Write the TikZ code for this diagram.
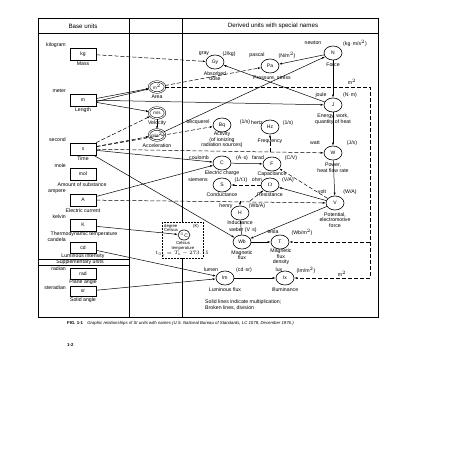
\documentclass[tikz,border=0pt]{standalone}
\usepackage{fontspec}
\setmainfont{Liberation Sans}
\usetikzlibrary{arrows.meta,shapes.geometric}
\begin{document}
\begin{tikzpicture}[x=1pt,y=-1pt,
  txt/.style={font=\fontsize{5.2}{5.6}\selectfont, inner sep=0pt, align=center},
  stxt/.style={font=\fontsize{4.2}{4.6}\selectfont, inner sep=0pt, align=center},
  hdr/.style={font=\fontsize{6.2}{6.6}\selectfont, inner sep=0pt},
  ubox/.style={draw, line width=0.7pt, minimum width=26pt, minimum height=12pt, inner sep=0pt, font=\fontsize{5}{5}\selectfont},
  unit/.style={draw, ellipse, line width=0.6pt, minimum width=18pt, minimum height=14pt, inner sep=0pt, font=\fontsize{5}{5}\selectfont},
  dunit/.style={draw, ellipse, double, double distance=1pt, line width=0.5pt, minimum width=16pt, minimum height=11pt, inner sep=0pt, font=\fontsize{4.5}{5}\selectfont},
  mul/.style={-{Latex[length=3pt,width=2pt]}, line width=0.5pt},
  dv/.style={mul, dash pattern=on 4pt off 2pt},
  frm/.style={line width=0.8pt}
]
\useasboundingbox[fill=white] (0,0) rectangle (452,452);
% frame
\draw[frm] (38,18) rectangle (378,317);
\draw[frm] (38,33) -- (378,33);
\draw[frm] (129,18) -- (129,317);
\draw[frm] (182,18) -- (182,222);
\draw[frm] (182,258) -- (182,317);
\draw[frm] (38,259.5) -- (129,259.5);
\draw[frm] (38,265) -- (129,265);
\node[hdr] (hb) at (83,26) {Base units};
\node[hdr] (hd) at (273,26) {Derived units with special names};
\node[txt] (hs) at (80,262.3) {Supplementary units};
% base units
\node[ubox] (kg) at (83,54) {kg};
\node[ubox] (m) at (83,100) {m};
\node[ubox] (s) at (83,149) {s};
\node[ubox] (mol) at (83,174) {mol};
\node[ubox] (A) at (83,200) {A};
\node[ubox] (K) at (83,225) {K};
\node[ubox,minimum height=11pt] (cd) at (83,247.5) {cd};
\node[ubox,minimum height=11pt] (rad) at (83,273.5) {rad};
\node[ubox,minimum height=10.5pt] (sr) at (83,291.5) {sr};
\node[txt,anchor=east] (lkg) at (66,45) {kilogram};
\node[txt] (dkg) at (83,64) {Mass};
\node[txt,anchor=east] (lm) at (66,91) {meter};
\node[txt] (dm) at (83,110) {Length};
\node[txt,anchor=east] (ls) at (66,140) {second};
\node[txt] (ds) at (83,159) {Time};
\node[txt,anchor=east] (lmol) at (66,166) {mole};
\node[txt] (dmol) at (82,185) {Amount of substance};
\node[txt,anchor=east] (lA) at (66,192) {ampere};
\node[txt] (dA) at (83,211) {Electric current};
\node[txt,anchor=east] (lK) at (66,217) {kelvin};
\node[txt] (dK) at (84,234) {Thermodynamic temperature};
\node[txt,anchor=east] (lcd) at (66,240) {candela};
\node[txt] (dcd) at (83,255.8) {Luminous intensity};
\node[txt,anchor=east] (lrad) at (66,268.5) {radian};
\node[txt] (drad) at (83,282.5) {Plane angle};
\node[txt,anchor=east] (lsr) at (66,288) {steradian};
\node[txt] (dsr) at (83,300.5) {Solid angle};
% double circle units
\node[dunit] (m2) at (157,87) {m$^2$};
\node[txt] (dm2) at (157,97) {Area};
\node[dunit] (ms) at (157,113) {m/s};
\node[txt] (dms) at (157,123) {Velocity};
\node[dunit] (ms2) at (157,135) {m/s$^2$};
\node[txt] (dms2) at (157,146) {Acceleration};
% derived
\node[unit] (Gy) at (215,62) {Gy};
\node[txt] (nGy) at (204,54) {gray};
\node[txt] (uGy) at (229,54) {(J/kg)};
\node[txt] (dGy) at (215,76) {Absorbed\\dose};
\node[unit] (Pa) at (270,66) {Pa};
\node[txt] (nPa) at (257,55) {pascal};
\node[txt] (uPa) at (287,55) {(N/m$^2$)};
\node[txt] (dPa) at (272,78) {Pressure, stress};
\node[unit] (N) at (333,53) {N};
\node[txt] (nN) at (313,43) {newton};
\node[txt] (uN) at (355,43) {(kg$\cdot$m/s$^2$)};
\node[txt] (dN) at (333,65) {Force};
\node[unit] (J) at (333,105) {J};
\node[txt] (nJ) at (321,95) {joule};
\node[txt] (uJ) at (350,95) {(N$\cdot$m)};
\node[txt] (dJ) at (333,119) {Energy, work,\\quantity of heat};
\node[unit] (W) at (333,153) {W};
\node[txt] (nW) at (315,143) {watt};
\node[txt] (uW) at (352,143) {(J/s)};
\node[txt] (dW) at (333,168) {Power,\\heat flow rate};
\node[unit] (V) at (335,203) {V};
\node[txt] (nV) at (322,192) {volt};
\node[txt] (uV) at (350,192) {(W/A)};
\node[txt] (dV) at (335,220) {Potential,\\electromotive\\force};
\node[unit] (Bq) at (222,125) {Bq};
\node[txt] (nBq) at (198,122) {becquerel};
\node[txt] (uBq) at (245,122) {(1/s)};
\node[txt] (dBq) at (222,140) {Activity\\(of ionizing\\radiation sources)};
\node[unit] (Hz) at (270,127) {Hz};
\node[txt] (nHz) at (257,123) {hertz};
\node[txt] (uHz) at (288,123) {(1/s)};
\node[txt] (dHz) at (270,141) {Frequency};
\node[unit] (C) at (222,163) {C};
\node[txt] (nC) at (199,158) {coulomb};
\node[txt] (uC) at (242,158) {(A$\cdot$s)};
\node[txt] (dC) at (222,173) {Electric charge};
\node[unit] (F) at (272,164) {F};
\node[txt] (nF) at (258,158) {farad};
\node[txt] (uF) at (291,158) {(C/V)};
\node[txt] (dF) at (272,174) {Capacitance};
\node[unit] (S) at (222,185) {S};
\node[txt] (nS) at (198,180) {siemens};
\node[txt] (uS) at (241,180) {(1/$\Omega$)};
\node[txt] (dS) at (222,195) {Conductance};
\node[unit] (Om) at (270,185) {$\Omega$};
\node[txt] (nOm) at (257,180) {ohm};
\node[txt] (uOm) at (288,180) {(V/A)};
\node[txt] (dOm) at (270,195) {Resistance};
\node[unit] (H) at (240,213) {H};
\node[txt] (nH) at (226,206) {henry};
\node[txt] (uH) at (257,206) {(Wb/A)};
\node[txt] (dH) at (240,223) {Inductance};
\node[unit] (Wb) at (242,242) {Wb};
\node[txt] (nWb) at (243,230) {weber (V$\cdot$s)};
\node[txt] (dWb) at (242,255) {Magnetic\\flux};
\node[unit] (T) at (280,242) {T};
\node[txt] (nT) at (273,232) {tesla};
\node[txt] (uT) at (302,232) {(Wb/m$^2$)};
\node[txt] (dT) at (281,257) {Magnetic\\flux\\density};
\node[unit] (lmn) at (225,278) {lm};
\node[txt] (nlm) at (211,270) {lumen};
\node[txt] (ulm) at (244,270) {(cd$\cdot$sr)};
\node[txt] (dlm) at (225,290) {Luminous flux};
\node[unit] (lx) at (285,278) {lx};
\node[txt] (nlx) at (279,270) {lux};
\node[txt] (ulx) at (306,270) {(lm/m$^2$)};
\node[txt] (dlx) at (285,290) {Illuminance};
% celsius
\draw[dash pattern=on 2pt off 1pt, line width=0.5pt] (162,222) rectangle (203,258);
\node[stxt,align=left,anchor=north west] (tCe) at (164,224) {degree\\Celsius};
\node[stxt] (uCe) at (196,226) {(K)};
\node[unit,minimum width=12pt,minimum height=10pt] (Ce) at (184,235) {$^\circ$C};
\node[stxt] (dCe) at (183,246) {Celsius\\temperature};
\node[stxt] (fCe) at (182,254) {$t_{^\circ\mathrm{C}}=T_\mathrm{K}-273.15$};
% note
\node[txt,align=left,anchor=west] (note) at (205,305) {Solid lines indicate multiplication;\\Broken lines, division};
% caption
\node[font=\fontsize{4.3}{4.5}\selectfont\itshape, anchor=west, inner sep=0pt] (cap) at (67,323) {\textbf{\upshape FIG. 1-1}\quad Graphic relationships of SI units with names (U.S. National Bureau of Standards, LC 1078, December 1976.)};
\node[font=\fontsize{4.3}{4.5}\selectfont\bfseries, anchor=west, inner sep=0pt] (pg) at (67,345) {1-2};
% connectors
\draw[dv] (kg) -- (Gy);
\draw[mul] ([yshift=-1.5pt]m.east) -- (m2);
\draw[mul] ([yshift=1.5pt]m.east) -- (m2);
\draw[mul] (m) -- (ms);
\draw[mul] (m) -- (J);
\draw[dv] (s) -- (ms);
\draw[dv] (s) -- (ms2);
\draw[mul] (ms) -- (ms2);
\draw[mul] (ms2) -- (N);
\draw[mul] (N) -- (Pa);
\draw[dv] (m2) -- (Pa);
\draw[mul] (N) -- (J);
\draw[mul] (J) -- (Gy);
\draw[mul] (J) -- (W);
\draw[dv] (s) -- (W);
\draw[dv] (s) -- (Bq);
\coordinate (hzb) at (270,152);
\draw[dv] (hzb) -- (Hz);
\draw[mul] (W) -- (V);
\draw[dv] (A) -- (V);
\draw[mul] (A) -- (C);
\draw[mul] (s) -- (C);
\draw[mul] (C) -- (F);
\draw[dv] (V) -- (F);
\draw[mul] (V) -- (Om);
\coordinate (omb) at (250,201);
\draw[dv] (omb) -- (Om);
\draw[dv] (Om) -- (S);
\draw[mul] (V) -- (Wb);
\draw[mul] (s) -- (Wb);
\draw[mul] (Wb) -- (H);
\coordinate (hb2) at (240,201);
\draw[dv] (hb2) -- (H);
\draw[mul] (Wb) -- (T);
\coordinate (rc1) at (370,87);
\coordinate (rc2) at (370,278);
\coordinate (rc3) at (370,242);
\draw[dv] (m2) -- (rc1) -- (rc2) -- (lx);
\draw[dv] (rc3) -- (T);
\draw[mul] (K) -- (Ce);
\draw[mul] (cd) -- (lmn);
\draw[mul] (sr) -- (lmn);
\draw[mul] (lmn) -- (lx);
\node[txt] (m2a) at (352,82) {m$^2$};
\node[txt] (m2b) at (342,274) {m$^2$};
\end{tikzpicture}
\end{document}
